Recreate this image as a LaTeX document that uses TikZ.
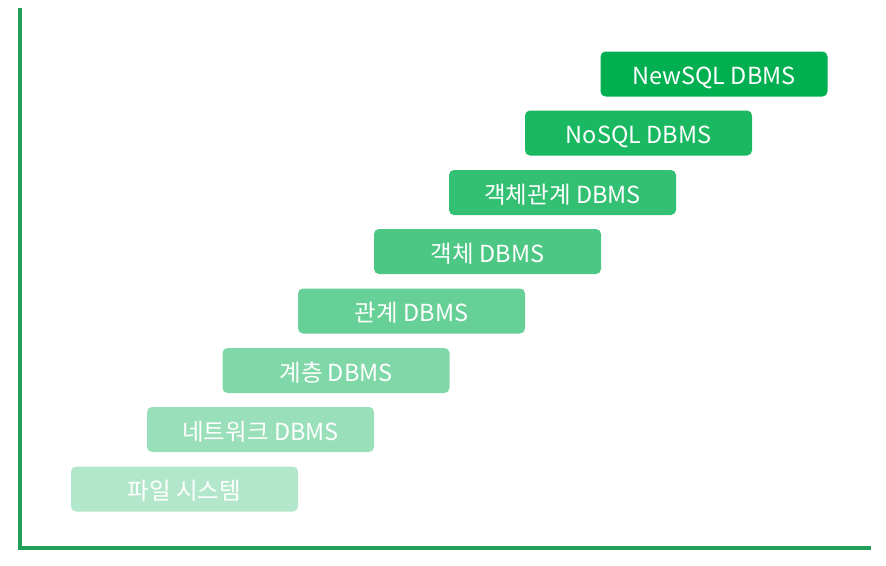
\documentclass[tikz,border=0pt]{standalone}
\usepackage{fontspec}
\setmainfont{Noto Sans CJK KR}
\definecolor{basegreen}{RGB}{0,176,80}
\definecolor{axisgreen}{RGB}{34,160,90}
\begin{document}
\begin{tikzpicture}[x=1pt,y=-1pt,
  stage/.style={fill=basegreen!#1, text=white, rounded corners=5pt,
    minimum width=227pt, minimum height=45pt, inner sep=0pt,
    text height=21.8pt, text depth=0pt,
    font=\fontsize{23.5}{28}\selectfont},
  axisline/.style={draw=axisgreen, line width=3.5pt}]
\useasboundingbox (0,0) rectangle (886,565);
\node[stage=100] (n8) at (714,74) {NewSQL DBMS};
\node[stage=90] (n7) at (638.5,133) {NoSQL DBMS};
\node[stage=80] (n6) at (562.5,192.5) {객체관계 DBMS};
\node[stage=70] (n5) at (487.5,251.5) {객체 DBMS};
\node[stage=60] (n4) at (411.5,311) {관계 DBMS};
\node[stage=50] (n3) at (336,370.5) {계층 DBMS};
\node[stage=40] (n2) at (260.5,429.5) {네트워크 DBMS};
\node[stage=30] (n1) at (184.5,489) {파일 시스템};
\coordinate (top) at (20,8);
\coordinate (origin) at (20,548);
\coordinate (right) at (871,548);
\draw[axisline] (top) -- (origin) -- (right);
\end{tikzpicture}
\end{document}
